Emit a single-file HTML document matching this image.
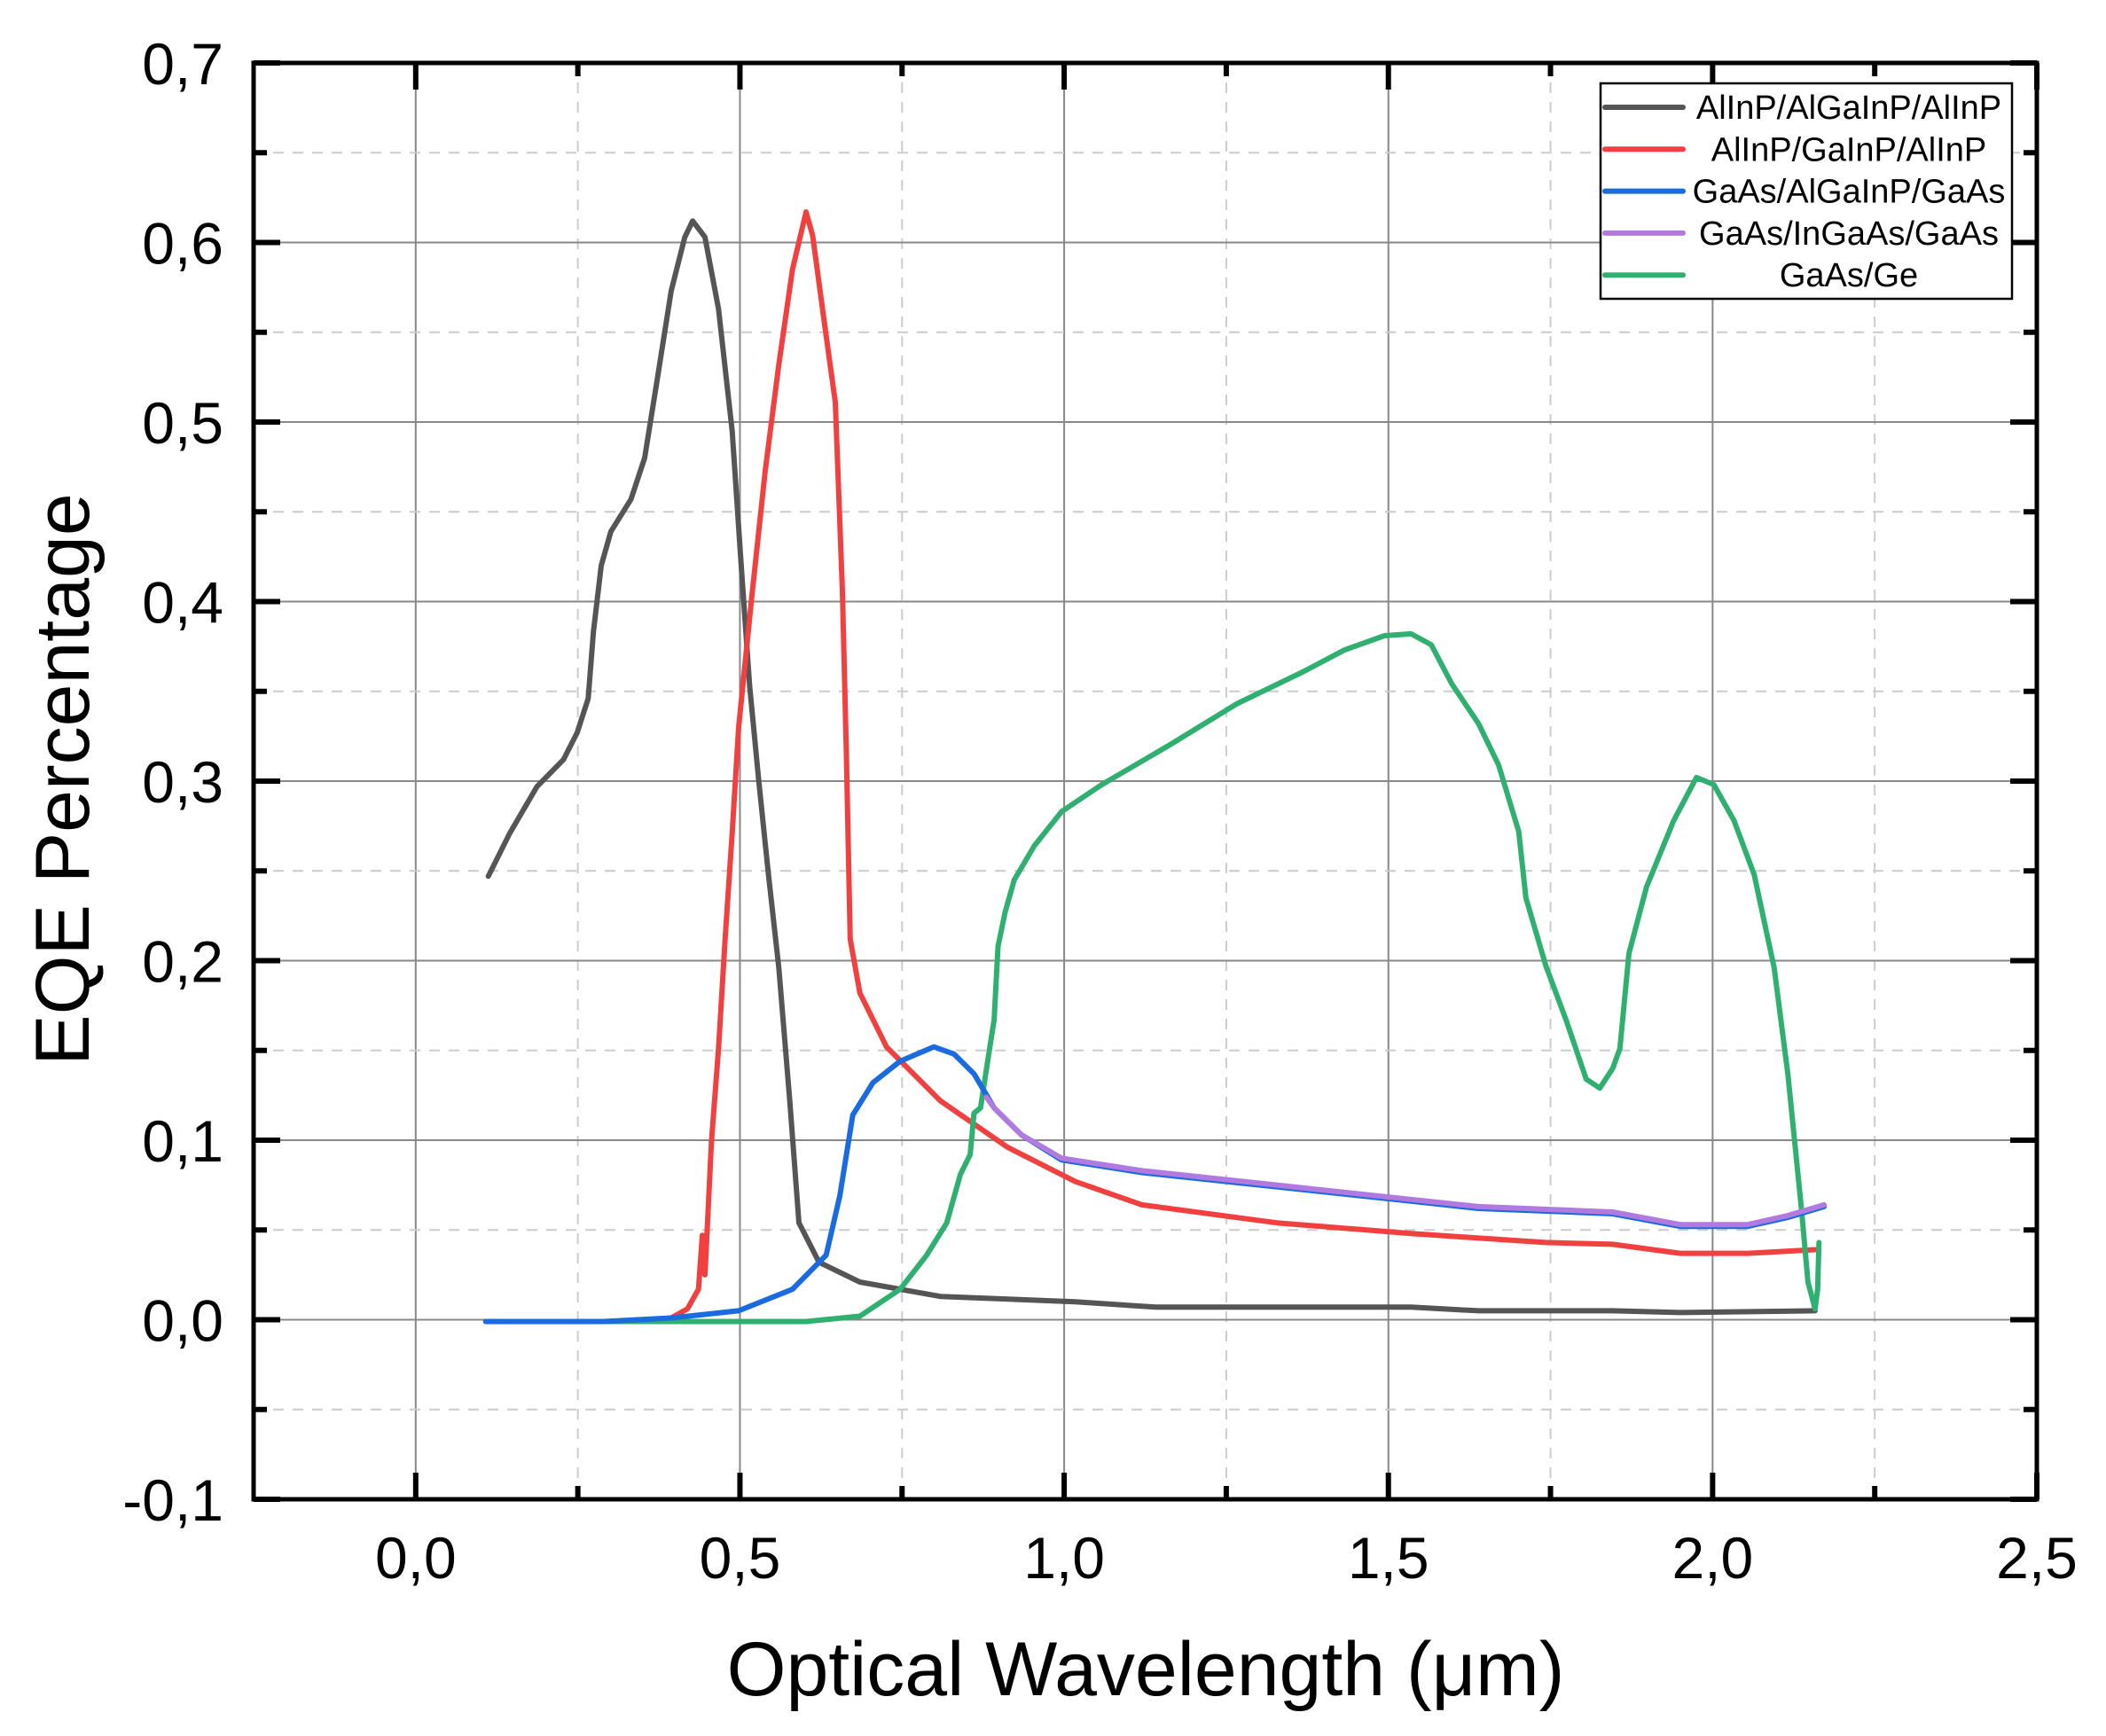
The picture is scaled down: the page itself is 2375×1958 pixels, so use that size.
<!DOCTYPE html>
<html><head><meta charset="utf-8"><style>
html,body{margin:0;padding:0;background:#fff;}
svg{display:block;font-family:"Liberation Sans",Arial,sans-serif;}
</style></head><body>
<svg id="chart" width="2375" height="1958" viewBox="0 0 2375 1958" xmlns="http://www.w3.org/2000/svg">
<g id="grid"></g>
<g id="series"></g>
<g id="axes"></g>
<text x="1292" y="1912" font-size="86" text-anchor="middle">Optical Wavelength (μm)</text>
<text transform="translate(100,879) rotate(-90)" font-size="86" text-anchor="middle">EQE Percentage</text>
<g id="legend">
<rect x="1805" y="94" width="464" height="243" fill="#fff" stroke="#000" stroke-width="2.5"/>
</g>
</svg>
<script>
const xTicks=[0,0.5,1.0,1.5,2.0,2.5];
const xTickLabels=["0,0","0,5","1,0","1,5","2,0","2,5"];
const yTicks=[-0.1,0,0.1,0.2,0.3,0.4,0.5,0.6,0.7];
const yTickLabels=["-0,1","0,0","0,1","0,2","0,3","0,4","0,5","0,6","0,7"];
const seriesNames=["AlInP/AlGaInP/AlInP","AlInP/GaInP/AlInP","GaAs/AlGaInP/GaAs","GaAs/InGaAs/GaAs","GaAs/Ge"];
const seriesColors=["#555555","#f04040","#1a6ae0","#b07ae0","#30b070"];
const blackX=[0.112,0.145,0.187,0.228,0.249,0.266,0.274,0.286,0.301,0.332,0.353,0.373,0.394,0.415,0.427,0.446,0.467,0.488,0.502,0.515,0.529,0.544,0.560,0.577,0.591,0.622,0.685,0.809,1.017,1.141,1.535,1.639,1.846,1.950,2.158];
const blackY=[0.247,0.271,0.297,0.312,0.327,0.346,0.383,0.420,0.439,0.457,0.480,0.525,0.573,0.603,0.612,0.603,0.563,0.495,0.420,0.353,0.300,0.248,0.196,0.121,0.054,0.032,0.021,0.013,0.010,0.007,0.007,0.005,0.005,0.004,0.005];
const redX=[0.108,0.187,0.353,0.394,0.419,0.436,0.442,0.446,0.450,0.456,0.467,0.477,0.488,0.498,0.519,0.539,0.560,0.581,0.602,0.612,0.633,0.647,0.658,0.664,0.670,0.685,0.726,0.809,0.913,1.017,1.120,1.328,1.535,1.743,1.846,1.950,2.054,2.158];
const redY=[-0.001,-0.001,-0.001,0.001,0.006,0.017,0.047,0.025,0.054,0.099,0.151,0.211,0.271,0.330,0.405,0.473,0.532,0.585,0.617,0.604,0.548,0.511,0.406,0.317,0.212,0.182,0.152,0.122,0.096,0.077,0.064,0.054,0.048,0.043,0.042,0.037,0.037,0.039];
const blueX=[0.108,0.290,0.394,0.498,0.581,0.633,0.654,0.674,0.705,0.747,0.799,0.830,0.861,0.892,0.934,0.996,1.120,1.328,1.535,1.639,1.846,1.950,2.054,2.116,2.172];
const blueY=[-0.001,-0.001,0.001,0.005,0.017,0.036,0.069,0.114,0.132,0.144,0.152,0.148,0.137,0.118,0.103,0.089,0.082,0.074,0.066,0.062,0.059,0.052,0.052,0.057,0.063];
const purpleX=[0.880,0.892,0.934,0.996,1.120,1.328,1.535,1.639,1.846,1.950,2.054,2.116,2.172];
const purpleY=[0.124,0.118,0.103,0.090,0.083,0.075,0.067,0.063,0.060,0.053,0.053,0.058,0.064];
const greenX=[0.108,0.394,0.602,0.685,0.747,0.788,0.819,0.840,0.855,0.861,0.871,0.882,0.892,0.898,0.909,0.923,0.954,0.996,1.058,1.162,1.266,1.369,1.432,1.494,1.535,1.566,1.598,1.639,1.670,1.701,1.712,1.743,1.774,1.805,1.826,1.846,1.857,1.871,1.898,1.940,1.975,2.002,2.033,2.064,2.095,2.116,2.137,2.147,2.158,2.162,2.164];
const greenY=[-0.001,-0.001,-0.001,0.002,0.017,0.036,0.054,0.081,0.092,0.115,0.118,0.144,0.167,0.208,0.227,0.245,0.264,0.283,0.298,0.320,0.343,0.361,0.373,0.381,0.382,0.376,0.354,0.332,0.309,0.272,0.235,0.197,0.167,0.134,0.129,0.140,0.151,0.204,0.241,0.278,0.302,0.298,0.278,0.248,0.196,0.137,0.062,0.021,0.006,0.017,0.043];

const L=286,R=2297,T=71,B=1691,X0=-0.25,X1=2.5,Y0=-0.1,Y1=0.7;
const sx=v=>L+(v-X0)/(X1-X0)*(R-L);
const sy=v=>B-(v-Y0)/(Y1-Y0)*(B-T);
const NS="http://www.w3.org/2000/svg";
function mk(tag,attrs,parent){const e=document.createElementNS(NS,tag);for(const k in attrs)e.setAttribute(k,attrs[k]);parent.appendChild(e);return e;}
const grid=document.getElementById('grid'),axes=document.getElementById('axes'),series=document.getElementById('series'),legend=document.getElementById('legend');

for(let i=0;i<xTicks.length;i++){
  const x=sx(xTicks[i]);
  if(xTicks[i]<X1){const g=mk('line',{x1:x,x2:x,y1:T,y2:B,stroke:'#888',"stroke-width":2},grid);
  
  }
  const xm=sx(xTicks[i]-0.25);
  if(xTicks[i]-0.25>X0){const m=mk('line',{x1:xm,x2:xm,y1:T,y2:B,stroke:'#ccc',"stroke-width":2,"stroke-dasharray":"12,10"},grid);
  
  }
}
for(let i=0;i<yTicks.length;i++){
  const y=sy(yTicks[i]);
  if(yTicks[i]>Y0+1e-9&&yTicks[i]<Y1-1e-9){const g=mk('line',{x1:L,x2:R,y1:y,y2:y,stroke:'#888',"stroke-width":2},grid);
  
  }
  if(i<yTicks.length-1){const ym=sy(yTicks[i]+0.05);
  const m=mk('line',{x1:L,x2:R,y1:ym,y2:ym,stroke:'#ccc',"stroke-width":2,"stroke-dasharray":"12,10"},grid);
  
  }
}
function drawLine(xs,ys,color,name){
  let d='';for(let i=0;i<xs.length;i++)d+=(i?'L':'M')+sx(xs[i]).toFixed(1)+','+sy(ys[i]).toFixed(1);
  const p=mk('path',{d:d,fill:'none',stroke:color,"stroke-width":6,"stroke-linejoin":'round',"stroke-linecap":'round'},series);
  
  
}
drawLine(blackX,blackY,seriesColors[0],'series-alinp-algainp-alinp');
drawLine(redX,redY,seriesColors[1],'series-alinp-gainp-alinp');
drawLine(greenX,greenY,seriesColors[4],'series-gaas-ge');
drawLine(blueX,blueY,seriesColors[2],'series-gaas-algainp-gaas');
drawLine(purpleX,purpleY,seriesColors[3],'series-gaas-ingaas-gaas');

const fr=mk('rect',{x:L,y:T,width:R-L,height:B-T,fill:'none',stroke:'#000',"stroke-width":5},axes);


for(let i=0;i<xTicks.length;i++){
  const x=sx(xTicks[i]);
  [[B,B-30],[T,T+30]].forEach(p=>{const t=mk('line',{x1:x,x2:x,y1:p[0],y2:p[1],stroke:'#000',"stroke-width":6},axes);
  
  });
  const xm=sx(xTicks[i]-0.25);
  if(xTicks[i]-0.25>X0){[[B,B-15],[T,T+15]].forEach(p=>{const t=mk('line',{x1:xm,x2:xm,y1:p[0],y2:p[1],stroke:'#000',"stroke-width":6},axes);
  
  });}
  const lb=mk('text',{x:x,y:1780,"font-size":66,"text-anchor":'middle'},axes);
  lb.textContent=xTickLabels[i];
  
  
}
for(let i=0;i<yTicks.length;i++){
  const y=sy(yTicks[i]);
  [[L,L+30],[R,R-30]].forEach(p=>{const t=mk('line',{x1:p[0],x2:p[1],y1:y,y2:y,stroke:'#000',"stroke-width":6},axes);
  
  });
  if(i<yTicks.length-1){const ym=sy(yTicks[i]+0.05);
  [[L,L+15],[R,R-15]].forEach(p=>{const t=mk('line',{x1:p[0],x2:p[1],y1:ym,y2:ym,stroke:'#000',"stroke-width":6},axes);
  
  });}
  const lb=mk('text',{x:252,y:y+24,"font-size":66,"text-anchor":'end'},axes);
  lb.textContent=yTickLabels[i];
  
  
}
for(let i=0;i<seriesNames.length;i++){
  const y=121+i*47.3;
  const ln=mk('line',{x1:1810,x2:1898,y1:y,y2:y,stroke:seriesColors[i],"stroke-width":6,"stroke-linecap":'round'},legend);
  
  
  const t=mk('text',{x:2085,y:y+13,"font-size":38,"text-anchor":'middle'},legend);
  t.textContent=seriesNames[i];
  
  
}
</script>
</body></html>
